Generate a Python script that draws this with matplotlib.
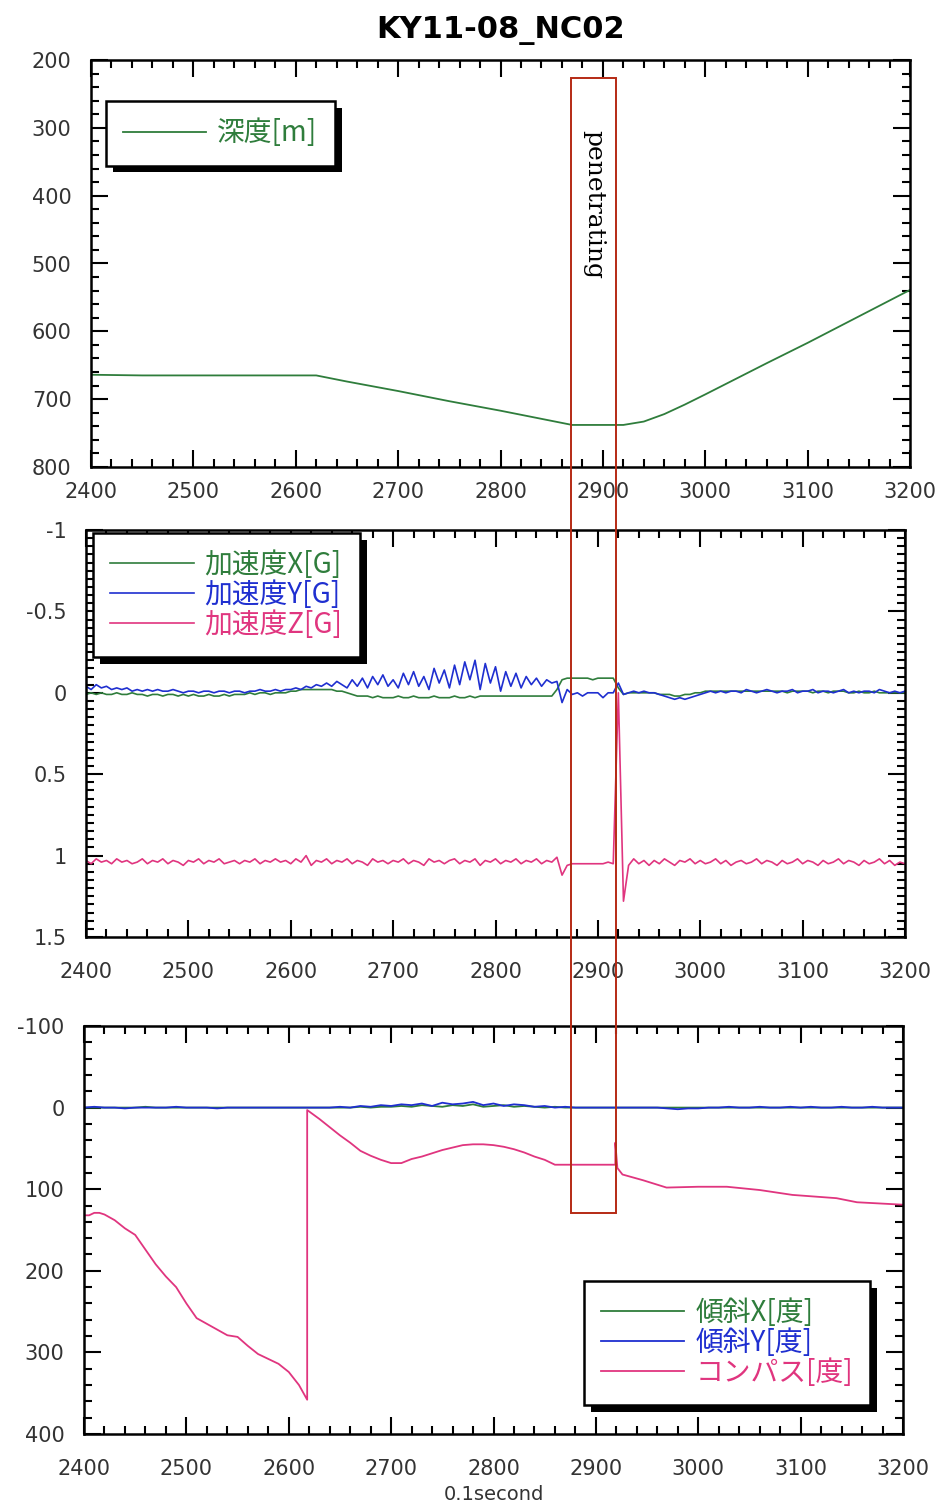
import numpy as np
import matplotlib
matplotlib.use("Agg")
import matplotlib.pyplot as plt
import matplotlib.patheffects as pe
from matplotlib.patches import Rectangle
from matplotlib.ticker import MultipleLocator, FuncFormatter
from matplotlib.transforms import blended_transform_factory

plt.rcParams['axes.unicode_minus'] = False

# --- データ ---
title = "KY11-08_NC02"

# 深度 [m]
depth_t = [2400, 2450, 2500, 2550, 2600, 2620, 2650, 2700, 2750, 2800, 2850, 2870,
           2900, 2920, 2940, 2960, 2980, 3000, 3030, 3060, 3100, 3150, 3200]
depth_m = [664, 665, 665, 665, 665, 665, 674, 688, 703, 717, 732, 738,
           738, 738, 733, 722, 708, 693, 670, 647, 617, 578, 539]

# 加速度 (5刻み, 2400..3200)
acc_t = np.arange(2400, 3201, 5)
acc_x = [
    0.01, 0.00, 0.01, 0.00, 0.01, 0.01, 0.00, 0.01, 0.01, 0.00,
    0.01, 0.01, 0.02, 0.01, 0.01, 0.02, 0.01, 0.01, 0.02, 0.01,
    0.02, 0.01, 0.02, 0.02, 0.01, 0.02, 0.02, 0.01, 0.02, 0.01,
    0.01, 0.01, 0.00, 0.01, 0.00, 0.00, 0.01, 0.00, 0.00, 0.00,
    -0.01, -0.01, -0.02, -0.02, -0.02, -0.02, -0.02, -0.02, -0.02, -0.01,
    -0.01, 0.00, 0.01, 0.02, 0.02, 0.02, 0.03, 0.02, 0.03, 0.03,
    0.03, 0.02, 0.03, 0.03, 0.02, 0.03, 0.03, 0.03, 0.02, 0.03,
    0.03, 0.03, 0.02, 0.03, 0.03, 0.02, 0.03, 0.02, 0.02, 0.02,
    0.02, 0.02, 0.02, 0.02, 0.02, 0.02, 0.02, 0.02, 0.02, 0.02,
    0.02, 0.02, -0.02, -0.08, -0.09, -0.09, -0.09, -0.09, -0.09, -0.08,
    -0.09, -0.09, -0.09, -0.09, -0.03, 0.01, 0.00, 0.00, 0.00, 0.00,
    0.00, 0.00, 0.01, 0.01, 0.01, 0.02, 0.02, 0.01, 0.01, 0.00,
    0.00, -0.01, -0.01, -0.01, -0.01, -0.01, -0.01, -0.01, -0.01, -0.01,
    -0.01, -0.01, -0.01, -0.01, -0.01, -0.01, -0.01, 0.00, -0.01, -0.01,
    -0.01, -0.01, 0.00, -0.01, -0.01, 0.00, -0.01, -0.01, -0.01, 0.00,
    0.00, -0.01, 0.00, 0.00, -0.01, 0.00, 0.00, 0.00, 0.00, 0.00,
    0.00]
acc_y = [
    -0.04, -0.02, -0.05, -0.03, -0.04, -0.02, -0.03, -0.02, -0.03, -0.01,
    -0.02, -0.01, -0.02, -0.01, -0.02, -0.01, -0.01, -0.02, -0.01, 0.00,
    -0.01, -0.01, 0.00, -0.01, -0.01, 0.00, -0.01, -0.01, 0.00, -0.01,
    -0.01, 0.00, -0.01, -0.01, -0.02, -0.01, -0.01, -0.02, -0.01, -0.02,
    -0.02, -0.03, -0.02, -0.04, -0.03, -0.05, -0.04, -0.06, -0.04, -0.07,
    -0.05, -0.03, -0.08, -0.04, -0.09, -0.03, -0.10, -0.05, -0.11, -0.04,
    -0.08, -0.03, -0.12, -0.05, -0.13, -0.04, -0.10, -0.02, -0.15, -0.06,
    -0.14, -0.03, -0.17, -0.05, -0.19, -0.08, -0.20, -0.02, -0.18, -0.06,
    -0.16, -0.01, -0.13, -0.04, -0.12, -0.03, -0.10, -0.05, -0.09, -0.04,
    -0.08, -0.06, -0.07, 0.06, -0.02, 0.01, 0.00, 0.02, 0.00, 0.00,
    0.00, 0.03, 0.00, 0.00, -0.06, 0.01, 0.00, -0.01, 0.00, -0.01,
    0.00, 0.00, 0.01, 0.02, 0.03, 0.04, 0.03, 0.04, 0.03, 0.02,
    0.01, 0.00, -0.01, 0.00, -0.01, 0.00, -0.01, -0.01, 0.00, -0.02,
    -0.01, 0.00, -0.01, -0.02, -0.01, 0.00, -0.01, -0.01, -0.02, 0.00,
    -0.01, -0.01, -0.02, 0.00, -0.01, -0.01, 0.00, -0.01, -0.02, 0.00,
    -0.01, 0.00, -0.01, -0.01, 0.00, -0.02, -0.01, 0.00, -0.01, 0.00,
    -0.01]
acc_z = [
    1.03, 1.05, 1.02, 1.04, 1.03, 1.05, 1.02, 1.04, 1.03, 1.05,
    1.04, 1.02, 1.05, 1.03, 1.04, 1.02, 1.05, 1.03, 1.04, 1.06,
    1.03, 1.04, 1.02, 1.05, 1.03, 1.04, 1.02, 1.05, 1.04, 1.03,
    1.05, 1.03, 1.04, 1.02, 1.05, 1.03, 1.04, 1.02, 1.04, 1.03,
    1.05, 1.02, 1.04, 1.00, 1.06, 1.03, 1.04, 1.02, 1.05, 1.03,
    1.04, 1.02, 1.05, 1.03, 1.04, 1.06, 1.02, 1.04, 1.03, 1.05,
    1.03, 1.04, 1.02, 1.05, 1.03, 1.04, 1.06, 1.02, 1.04, 1.03,
    1.05, 1.03, 1.02, 1.05, 1.03, 1.04, 1.02, 1.06, 1.03, 1.04,
    1.02, 1.05, 1.03, 1.04, 1.02, 1.05, 1.03, 1.04, 1.02, 1.05,
    1.03, 1.04, 1.01, 1.12, 1.06, 1.05, 1.05, 1.05, 1.05, 1.05,
    1.05, 1.05, 1.04, 1.05, 0.00, 1.28, 1.06, 1.02, 1.05, 1.03,
    1.06, 1.03, 1.05, 1.02, 1.04, 1.06, 1.03, 1.04, 1.02, 1.05,
    1.03, 1.05, 1.04, 1.02, 1.05, 1.03, 1.06, 1.04, 1.03, 1.05,
    1.04, 1.02, 1.05, 1.03, 1.04, 1.06, 1.03, 1.05, 1.04, 1.02,
    1.05, 1.03, 1.04, 1.06, 1.03, 1.05, 1.04, 1.02, 1.05, 1.03,
    1.04, 1.06, 1.03, 1.05, 1.04, 1.02, 1.05, 1.03, 1.06, 1.04,
    1.05]

# 傾斜 (10刻み, 2400..3200)
tilt_t = np.arange(2400, 3201, 10)
tilt_x = [
    0, 0, 0, 0, 0, 0, -1, 0, 0, 0,
    0, 0, 0, 0, 0, 0, 0, 0, 0, 0,
    0, 0, 0, 0, 0, 0, 0, -1, 0, -1,
    -1, -2, -1, -3, -2, -1, -3, -2, -4, -1,
    -2, -3, -1, -2, -1, 0, -1, 0, 0, 0,
    0, 0, 0, 0, 0, 0, 0, 0, 0, 0,
    0, 0, 0, 0, 0, 0, 0, 0, 0, 0,
    0, 0, 0, 0, 0, 0, 0, 0, 0, 0,
    0]
tilt_y = [
    0, -1, 0, 0, 1, 0, 0, 0, 0, -1,
    0, 0, 0, 1, 0, 0, 0, 0, 0, 0,
    0, 0, 0, 0, 0, -1, 0, -2, -1, -3,
    -2, -4, -3, -5, -2, -6, -4, -5, -7, -3,
    -5, -2, -4, -3, -1, -2, 0, -1, 0, 0,
    0, 0, 0, 0, 0, 0, 0, 1, 2, 1,
    1, 0, 0, -1, 0, 0, -1, 0, 0, -1,
    0, -1, 0, 0, -1, 0, 0, -1, 0, 0,
    0]

# コンパス [度]
comp_t = [2400, 2405, 2410, 2415, 2420, 2430, 2440, 2450, 2460, 2470, 2480, 2490,
          2500, 2510, 2520, 2530, 2540, 2550, 2560, 2570, 2580, 2590, 2600, 2610,
          2618, 2618, 2630, 2640, 2650, 2660, 2670, 2680, 2690, 2700, 2710, 2720,
          2730, 2740, 2750, 2760, 2770, 2780, 2790, 2800, 2810, 2820, 2830, 2840,
          2850, 2860, 2870, 2919, 2919, 2921, 2926, 2946, 2969, 3000, 3028, 3060,
          3092, 3135, 3155, 3200]
comp_v = [132, 132, 129, 129, 131, 138, 148, 156, 174, 192, 207, 220,
          240, 258, 265, 272, 279, 281, 292, 302, 308, 314, 324, 340,
          358, 3, 14, 24, 34, 43, 53, 59, 64, 68, 68, 63,
          60, 56, 52, 49, 46, 45, 45, 46, 48, 51, 55, 60,
          64, 70, 70, 70, 43, 74, 82, 89, 98, 97, 97, 101,
          107, 111, 116, 119]

pen_start, pen_end = 2869, 2913

green = '#2f7d3c'
blue = '#1f2fd0'
pink = '#e0357f'
cjk = ['Noto Sans CJK JP', 'DejaVu Sans']

W, H = 937, 1506
fig = plt.figure(figsize=(W / 100, H / 100), dpi=100)


def px_axes(left, top, right, bottom):
    return fig.add_axes([left / W, 1 - bottom / H, (right - left) / W, (bottom - top) / H])


def style(ax, ymin, ymax, ymaj, ymin_step, xpad):
    ax.set_xlim(2400, 3200)
    ax.set_ylim(ymax, ymin)
    ax.xaxis.set_major_locator(MultipleLocator(100))
    ax.xaxis.set_minor_locator(MultipleLocator(20))
    ax.yaxis.set_major_locator(MultipleLocator(ymaj))
    ax.yaxis.set_minor_locator(MultipleLocator(ymin_step))
    ax.yaxis.set_major_formatter(FuncFormatter(lambda v, p: '%g' % v))
    ax.tick_params(which='both', direction='in', top=True, right=True,
                   width=1.5, colors='black', labelcolor='#333333', labelsize=15)
    ax.tick_params(which='major', length=12)
    ax.tick_params(which='minor', length=6)
    ax.tick_params(axis='y', pad=14)
    ax.tick_params(axis='x', pad=xpad)
    for s in ax.spines.values():
        s.set_linewidth(1.8)


def legend(ax, **kw):
    leg = ax.legend(frameon=True, fancybox=False, framealpha=1, edgecolor='black',
                    labelcolor='linecolor', prop={'family': cjk, 'size': 20},
                    handlelength=3.0, handletextpad=0.4, labelspacing=0.0,
                    borderpad=0.62, borderaxespad=0, **kw)
    frame = leg.get_frame()
    frame.set_linewidth(1.8)
    frame.set_path_effects([pe.SimplePatchShadow(offset=(5, -5), shadow_rgbFace='black', alpha=1),
                            pe.Normal()])
    return leg


# 深度
ax1 = px_axes(91, 60, 910, 467)
ax1.plot(depth_t, depth_m, color=green, lw=1.3, label='深度[m]')
style(ax1, 200, 800, 100, 20, 11)
legend(ax1, loc='upper left', bbox_to_anchor=(0.018, 0.899))
ax1.set_title(title, fontsize=22, fontweight='bold', pad=16)

# 加速度
ax2 = px_axes(86, 530, 905, 937)
ax2.plot(acc_t, acc_x, color=green, lw=1.2, label='加速度X[G]')
ax2.plot(acc_t, acc_y, color=blue, lw=1.2, label='加速度Y[G]')
ax2.plot(acc_t, acc_z, color=pink, lw=1.2, label='加速度Z[G]')
style(ax2, -1, 1.5, 0.5, 0.05, 18)
legend(ax2, loc='upper left', bbox_to_anchor=(0.0085, 0.993))

# 傾斜・コンパス
ax3 = px_axes(84, 1026, 903, 1434)
ax3.plot(tilt_t, tilt_x, color=green, lw=1.3, label='傾斜X[度]')
ax3.plot(tilt_t, tilt_y, color=blue, lw=1.3, label='傾斜Y[度]')
ax3.plot(comp_t, comp_v, color=pink, lw=1.3, label='コンパス[度]')
style(ax3, -100, 400, 100, 20, 18)
legend(ax3, loc='lower right', bbox_to_anchor=(0.96, 0.071))
ax3.set_xlabel('0.1second', fontsize=14, color='#333333', labelpad=4)

# 貫入区間の枠
tr = blended_transform_factory(ax1.transData, fig.transFigure)
y_top, y_bot = 1 - 78 / H, 1 - 1213 / H
fig.add_artist(Rectangle((pen_start, y_bot), pen_end - pen_start, y_top - y_bot,
                         transform=tr, fill=False, edgecolor='#b52a14', lw=1.4, zorder=10))
fig.text((pen_start + pen_end) / 2, 1 - 130 / H, 'penetrating', transform=tr,
         rotation=270, ha='center', va='top', fontsize=18, family='DejaVu Serif')

fig.savefig('out.png', dpi=100, facecolor='white')
